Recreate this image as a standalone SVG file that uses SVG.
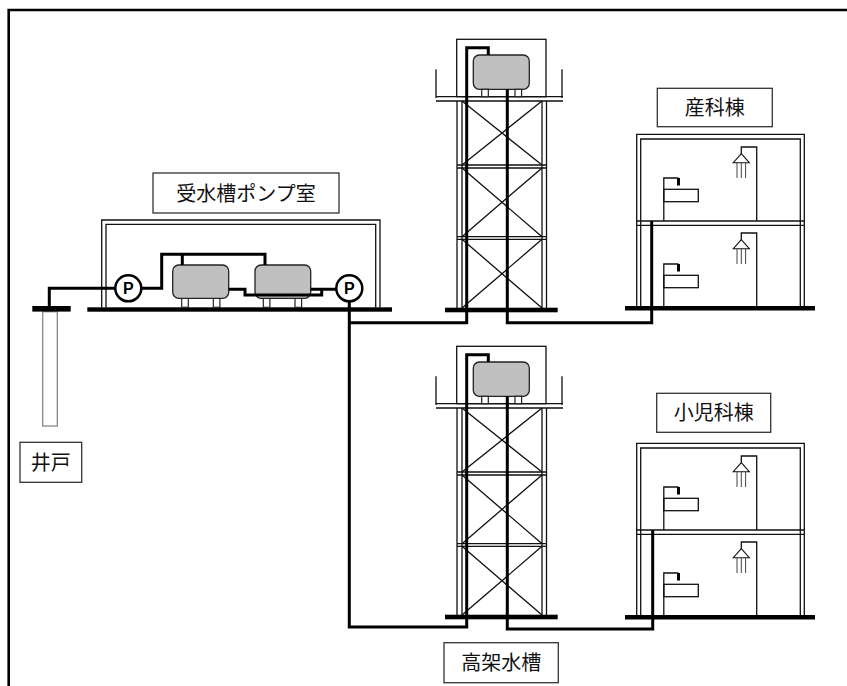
<svg xmlns="http://www.w3.org/2000/svg" xmlns:xlink="http://www.w3.org/1999/xlink" width="847" height="686" viewBox="0 0 847 686">
  <style>
    .thin { fill: none; stroke: #111; stroke-width: 1.3; }
    .pipe { fill: none; stroke: #000; stroke-width: 3; stroke-linejoin: miter; }
    .bar { fill: #000; }
    .tank { fill: #c0c0c0; stroke: #222; stroke-width: 1.3; }
    .leg { fill: #fff; stroke: #222; stroke-width: 1.2; }
    .label { fill: #fff; stroke: #333; stroke-width: 1.3; }
    .txt { font-family: "Noto Sans CJK JP", "Noto Sans", sans-serif; font-size: 20px; fill: #111; text-anchor: middle; }
    .pump { fill: #fff; stroke: #000; stroke-width: 2.5; }
    .ptxt { font-family: "Liberation Sans", Arial, sans-serif; font-size: 16px; font-weight: bold; fill: #000; text-anchor: middle; }
    .spray { fill: none; stroke: #444; stroke-width: 1; }
  </style>
  <defs>
    <!-- elevated tank on a steel frame tower -->
    <g id="tower">
      <rect x="456.7" y="39.3" width="89.3" height="57.4" class="thin"/>
      <path class="thin" d="M436,69.3 V98 M562,69.3 V98 M436,96.7 H563 M436,101 H563"/>
      <rect x="473.3" y="55" width="56" height="34.3" rx="6" class="tank"/>
      <rect x="481.7" y="89.3" width="6.6" height="7.4" class="leg"/>
      <rect x="515" y="89.3" width="6.6" height="7.4" class="leg"/>
      <path class="thin" d="M457,101 V308 M462,101 V308 M542,101 V308 M546.5,101 V308"/>
      <path class="thin" d="M457,165 H546.5 M457,168 H546.5 M457,236.7 H546.5 M457,239.3 H546.5"/>
      <path class="thin" d="M462,101 L542,165 M542,101 L462,165 M462,168 L542,236.7 M542,168 L462,236.7 M462,239.3 L542,308 M542,239.3 L462,308"/>
      <rect x="445" y="307.7" width="112.7" height="4.6" class="bar"/>
    </g>
    <!-- one storey of fixtures: wash basin and shower -->
    <g id="fixtures">
      <path class="thin" d="M663.8,221 V178 H678.5"/>
      <rect x="677" y="178" width="3" height="7.5" class="bar"/>
      <rect x="663.8" y="189.3" width="34.5" height="12.4" class="thin" fill="#fff"/>
      <path class="thin" d="M756.7,221 V147 H741.3 V153.7"/>
      <path d="M741.3,153.7 L733.3,162.7 H749.3 Z" fill="#fff" stroke="#111" stroke-width="1.1"/>
      <path class="spray" d="M737,163 V178 M741.3,163 V178 M745.6,163 V178"/>
    </g>
    <!-- two-storey ward building -->
    <g id="ward">
      <path class="thin" d="M636.7,306 V134.3 H804.3 V306 M640.7,306 V139 H800.3 V306"/>
      <path class="thin" d="M636.7,221 H804.3 M636.7,225.3 H804.3"/>
      <use xlink:href="#fixtures"/>
      <use xlink:href="#fixtures" transform="translate(0,86)"/>
      <rect x="625" y="306" width="190" height="4.5" class="bar"/>
    </g>
  </defs>

  <!-- sheet border -->
  <path d="M8.7,686 V10 H847" fill="none" stroke="#000" stroke-width="2.6"/>

  <!-- well -->
  <g id="well">
    <rect x="42.7" y="311.7" width="14.6" height="114.3" fill="#fff" stroke="#888" stroke-width="1.3"/>
    <rect x="32.3" y="306" width="38.4" height="5.6" class="bar"/>
  </g>
  <g id="label-well">
    <rect x="20" y="442.3" width="61.7" height="40" class="label"/>
    <text x="50.8" y="469.5" class="txt">井戸</text>
  </g>

  <!-- pump room -->
  <g id="pump-room">
    <path class="thin" d="M101.7,307.5 V220 H380 V307.5 M106,307.5 V224.3 H375.7 V307.5"/>
    <rect x="87.3" y="307.3" width="304.7" height="4.4" class="bar"/>
  </g>
  <g id="label-pump-room">
    <rect x="153" y="173" width="186" height="40" class="label"/>
    <text x="246" y="200.5" class="txt">受水槽ポンプ室</text>
  </g>
  <g id="tank-1">
    <rect x="181.7" y="298.3" width="6.6" height="9" class="leg"/>
    <rect x="213.3" y="298.3" width="6.6" height="9" class="leg"/>
    <rect x="172.7" y="265" width="56" height="33.3" rx="6" class="tank"/>
  </g>
  <g id="tank-2">
    <rect x="263.3" y="298.3" width="6.6" height="9" class="leg"/>
    <rect x="295" y="298.3" width="6.6" height="9" class="leg"/>
    <rect x="255" y="265" width="55.7" height="33.3" rx="6" class="tank"/>
  </g>

  <!-- elevated tanks -->
  <g id="tower-1"><use xlink:href="#tower"/></g>
  <g id="tower-2"><use xlink:href="#tower" transform="translate(0,307)"/></g>

  <!-- buildings -->
  <g id="maternity-ward"><use xlink:href="#ward"/></g>
  <g id="label-maternity">
    <rect x="657.3" y="88.3" width="115" height="38.4" class="label"/>
    <text x="714.8" y="114.5" class="txt">産科棟</text>
  </g>
  <g id="pediatric-ward"><use xlink:href="#ward" transform="translate(0,309)"/></g>
  <g id="label-pediatric">
    <rect x="656.7" y="393.3" width="114" height="39" class="label"/>
    <text x="713.7" y="419.8" class="txt">小児科棟</text>
  </g>
  <g id="label-elevated">
    <rect x="444" y="642.7" width="114.3" height="40" class="label"/>
    <text x="501.2" y="669.5" class="txt">高架水槽</text>
  </g>

  <!-- piping -->
  <g id="connectors">
    <path class="pipe" d="M115.3,288.3 H49.3 V306"/>
    <path class="pipe" d="M141.3,288.3 H161.7 V254.3 H265 V265 M182.3,254.3 V265"/>
    <path class="pipe" d="M228.7,289.3 H245 V295 H321.7 V289.3 H336.3 M310.7,289.3 H321.7"/>
    <path class="pipe" d="M349.3,301.3 V627 H466.7 V354.7 H488.3 V362"/>
    <path class="pipe" d="M349.3,322.7 H466.7 V47.7 H488.3 V55"/>
    <path class="pipe" d="M507.3,89.3 V322.7 H651.7 V221"/>
    <path class="pipe" d="M507.3,396.3 V629 H652.7 V530"/>
  </g>

  <!-- pumps -->
  <g id="pump-1">
    <circle cx="128.3" cy="288.3" r="13" class="pump"/>
    <text x="128.3" y="294" class="ptxt">P</text>
  </g>
  <g id="pump-2">
    <circle cx="349.3" cy="288.3" r="13" class="pump"/>
    <text x="349.3" y="294" class="ptxt">P</text>
  </g>
</svg>
